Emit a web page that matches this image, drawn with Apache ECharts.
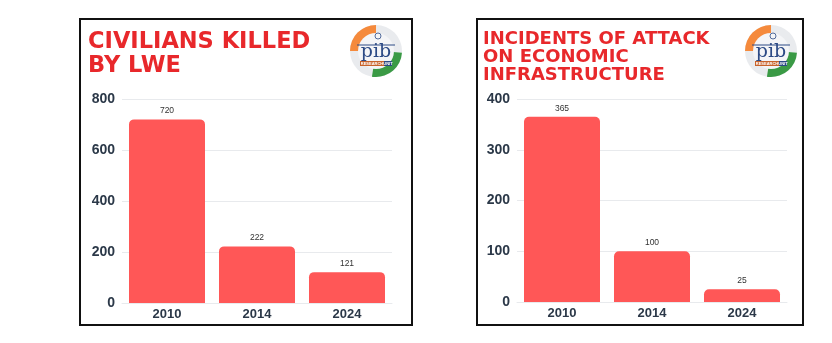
<!DOCTYPE html>
<html>
<head>
<meta charset="utf-8">
<script src="https://cdn.jsdelivr.net/npm/echarts@6/dist/echarts.min.js"></script>
<style>
html,body{margin:0;padding:0;background:#fff;}
#c{width:832px;height:343px;}
</style>
</head>
<body>
<div id="c"></div>
<script>
const categories = ['2010', '2014', '2024'];
const civiliansKilled = [720, 222, 121];
const attacksOnInfrastructure = [365, 100, 25];
const leftTicks = [0, 200, 400, 600, 800];
const rightTicks = [0, 100, 200, 300, 400];
const leftTitle = 'CIVILIANS KILLED\nBY LWE';
const rightTitle = 'INCIDENTS OF ATTACK\nON ECONOMIC\nINFRASTRUCTURE';

const BAR = '#ff5757';
const TITLE_RED = '#e8282b';
const AXIS_TXT = '#2b3848';
const GRIDC = '#e8eaed';

function logo(cx, cy) {
  return {
    type: 'group',
    children: [
      { type: 'circle', shape: { cx: cx, cy: cy, r: 26 }, style: { fill: '#e9ebee' } },
      { type: 'sector', shape: { cx: cx, cy: cy, r: 26, r0: 17, startAngle: Math.PI * 1.0, endAngle: Math.PI * 1.5, clockwise: true }, style: { fill: '#f58a3c' } },
      { type: 'sector', shape: { cx: cx, cy: cy, r: 26, r0: 17, startAngle: Math.PI * 0.02, endAngle: Math.PI * 0.55, clockwise: true }, style: { fill: '#3a9a45' } },
      { type: 'circle', shape: { cx: cx, cy: cy, r: 18 }, style: { fill: '#f4f5f7' } },
      { type: 'line', shape: { x1: cx - 19, y1: cy - 6, x2: cx + 19, y2: cy - 6 }, style: { stroke: '#2c4a85', lineWidth: 1 } },
      { type: 'circle', shape: { cx: cx + 2, cy: cy - 15, r: 3 }, style: { fill: 'none', stroke: '#2c4a85', lineWidth: 0.8 } },
      { type: 'text', x: cx, y: cy + 1, style: { text: 'pib', fill: '#2c4a85', font: '19px "DejaVu Serif", serif', align: 'center', verticalAlign: 'middle' } },
      { type: 'rect', shape: { x: cx - 16, y: cy + 10, width: 24, height: 5 }, style: { fill: '#c8622a' } },
      { type: 'rect', shape: { x: cx + 8, y: cy + 10, width: 8, height: 5 }, style: { fill: '#2c4a85' } },
      { type: 'text', x: cx - 4, y: cy + 12.7, style: { text: 'RESEARCH', fill: '#fff', font: 'bold 4px "Liberation Sans"', align: 'center', verticalAlign: 'middle' } },
      { type: 'text', x: cx + 12, y: cy + 12.7, style: { text: 'UNIT', fill: '#fff', font: 'bold 4px "Liberation Sans"', align: 'center', verticalAlign: 'middle' } }
    ]
  };
}

function yAxis(gridIndex, ticks) {
  return {
    type: 'value', gridIndex: gridIndex,
    min: ticks[0], max: ticks[ticks.length - 1], interval: ticks[1] - ticks[0],
    axisLine: { show: false }, axisTick: { show: false },
    axisLabel: { color: AXIS_TXT, fontFamily: 'Liberation Sans', fontWeight: 'bold', fontSize: 14, margin: 7 },
    splitLine: { lineStyle: { color: GRIDC, width: 1 } }
  };
}
function xAxis(gridIndex) {
  return {
    type: 'category', gridIndex: gridIndex, data: categories,
    axisLine: { lineStyle: { color: GRIDC } }, axisTick: { show: false },
    axisLabel: { color: AXIS_TXT, fontFamily: 'Liberation Sans', fontWeight: 'bold', fontSize: 13, margin: 5 }
  };
}
function series(idx, data) {
  return {
    type: 'bar', xAxisIndex: idx, yAxisIndex: idx, data: data,
    barWidth: 76,
    itemStyle: { color: BAR, borderRadius: [5, 5, 0, 0] },
    label: { show: true, position: 'top', distance: 4, color: '#333', fontFamily: 'Liberation Sans', fontSize: 8.5 },
    silent: true
  };
}

const chart = echarts.init(document.getElementById('c'), null, { renderer: 'canvas' });
chart.setOption({
  animation: false,
  backgroundColor: '#fff',
  title: [
    { text: leftTitle, left: 83, top: 25, textStyle: { color: TITLE_RED, fontFamily: 'DejaVu Sans', fontWeight: 'bold', fontSize: 22.5, lineHeight: 24 } },
    { text: rightTitle, left: 478, top: 25, textStyle: { color: TITLE_RED, fontFamily: 'DejaVu Sans', fontWeight: 'bold', fontSize: 18, lineHeight: 18 } }
  ],
  grid: [
    { left: 122, top: 99, width: 270, height: 204 },
    { left: 517, top: 99, width: 270, height: 203 }
  ],
  xAxis: [xAxis(0), xAxis(1)],
  yAxis: [yAxis(0, leftTicks), yAxis(1, rightTicks)],
  series: [series(0, civiliansKilled), series(1, attacksOnInfrastructure)],
  graphic: [
    { type: 'rect', shape: { x: 80, y: 19, width: 332, height: 306 }, style: { fill: 'none', stroke: '#111', lineWidth: 2 }, z: 100 },
    { type: 'rect', shape: { x: 477, y: 19, width: 326, height: 306 }, style: { fill: 'none', stroke: '#111', lineWidth: 2 }, z: 100 },
    logo(376, 51),
    logo(771, 51)
  ]
});
</script>
</body>
</html>
